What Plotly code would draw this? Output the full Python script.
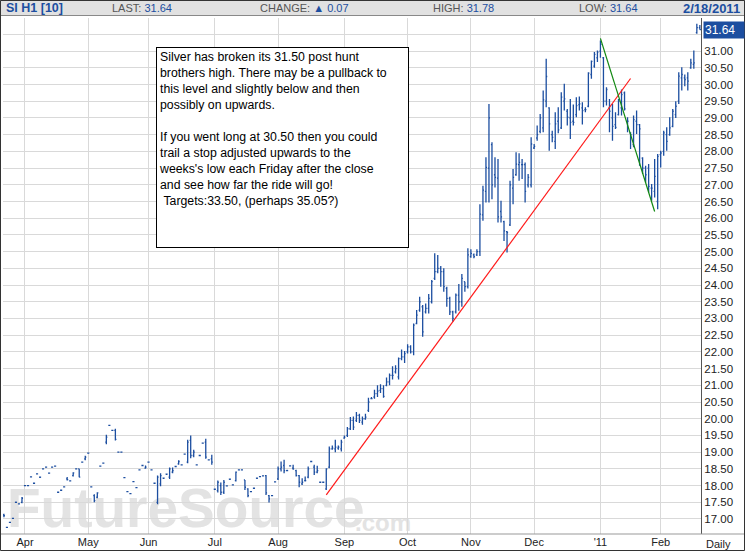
import pandas as pd
import plotly.graph_objects as go

# trading calendar (COMEX silver, Mar 23 2010 .. Feb 18 2011)
HOLIDAYS = ["2010-04-02", "2010-05-31", "2010-07-05", "2010-09-06",
            "2010-11-25", "2010-12-24", "2011-01-17"]
days = pd.bdate_range("2010-03-23", "2011-02-18")
days = days[~days.isin(pd.to_datetime(HOLIDAYS))]
dates = [d.strftime("%Y-%m-%d") for d in days]

# daily bars, one row per month (Mar .. Feb)
opens = [
    17.12, 16.75, 16.90, 17.02, 17.50, 17.45, 17.50,
    18.00, 18.00, 18.26, 18.07, 18.35, 18.25, 18.50, 18.55, 18.37, 18.55, 18.58,
    17.80, 17.86, 17.96, 18.20, 18.14, 18.30, 18.50, 18.50, 18.70, 18.80,
    18.97, 17.96, 17.70, 17.65, 18.58, 18.67, 19.30, 19.80, 19.65, 19.65,
    19.00, 19.00, 18.24, 17.82, 17.76, 18.12, 17.94, 18.47, 18.60, 18.52,
    18.70, 18.47, 18.07, 17.50, 18.05, 18.22, 18.34, 18.25, 18.40, 18.57, 18.65,
    18.62, 18.94, 18.70, 19.35, 18.90, 18.62, 18.90, 19.27, 19.30, 18.77, 18.80,
    17.89, 17.85, 18.00, 17.80, 17.99, 18.19, 18.02, 18.15, 18.47, 18.47, 18.17,
    17.90, 17.82, 17.92, 18.22, 18.27, 18.29, 18.30, 17.70, 17.70, 18.11,
    18.20, 18.50, 18.60, 18.45, 18.59, 18.52, 18.45, 18.30, 18.05, 18.15, 18.25,
    18.72, 18.55, 18.40, 18.10, 18.10, 17.90, 18.55, 19.10, 19.10, 19.12, 19.10,
    19.42, 19.50, 19.70, 19.95, 19.95, 20.10, 19.90, 20.00, 20.25, 20.60, 20.65,
    20.75, 20.85, 20.90, 21.00, 21.10, 21.30, 21.40, 21.25, 21.80, 21.85,
    22.00, 22.15, 22.00, 22.85, 23.25, 23.35, 23.20, 23.30, 23.50, 24.20, 24.40,
    24.50, 24.40, 23.90, 23.60, 23.20, 23.20, 23.70, 23.50, 24.10, 23.95,
    24.85, 24.90, 24.90, 25.00, 26.10, 26.80, 27.50, 28.20, 27.30, 27.20, 26.20,
    25.90, 25.60, 25.80, 26.90, 27.30, 27.60, 27.60, 27.60, 27.00, 27.00,
    28.10, 28.40, 28.60, 28.70, 29.50, 29.30, 28.50, 28.30, 28.90, 28.70, 29.50,
    29.20, 29.00, 28.90, 29.10, 29.40, 29.30, 29.25, 29.35, 30.30, 30.55, 30.80,
    31.00, 30.80, 29.50, 29.30, 29.00, 28.80, 29.10, 29.30, 29.75, 28.90,
    28.55, 28.20, 28.90, 28.80, 27.80, 27.50, 27.50, 26.90, 26.80, 26.50,
    27.90, 28.00, 28.50, 28.50, 28.75, 29.10, 29.50, 30.20, 30.20, 30.20, 30.50,
    30.60, 31.55, 31.70,
]
highs = [
    17.16, 16.77, 16.92, 17.04, 17.52, 17.47, 17.66,
    18.02, 18.02, 18.28, 18.09, 18.37, 18.27, 18.52, 18.57, 18.39, 18.57, 18.60,
    17.82, 17.88, 17.98, 18.26, 18.16, 18.40, 18.52, 18.50, 18.72, 18.89,
    18.99, 17.98, 17.74, 17.80, 18.60, 18.69, 19.52, 19.82, 19.67, 19.70,
    19.02, 19.02, 18.26, 17.84, 17.78, 18.14, 17.96, 18.49, 18.62, 18.60,
    18.72, 18.49, 18.09, 18.30, 18.37, 18.24, 18.36, 18.54, 18.54, 18.59, 18.76,
    18.64, 18.96, 19.37, 19.50, 19.07, 18.64, 18.92, 19.29, 19.40, 18.79, 18.92,
    17.91, 18.15, 18.09, 18.17, 18.01, 18.21, 18.04, 18.42, 18.49, 18.49, 18.17,
    17.92, 17.84, 17.94, 18.24, 18.29, 18.31, 18.32, 17.72, 17.72, 18.13,
    18.57, 18.72, 18.77, 18.47, 18.61, 18.62, 18.47, 18.32, 18.22, 18.27, 18.57,
    18.74, 18.62, 18.59, 18.12, 18.12, 18.52, 19.17, 19.20, 19.37, 19.20, 19.37,
    19.50, 19.75, 20.05, 20.07, 20.20, 20.15, 20.07, 20.15, 20.63, 20.65, 20.87,
    21.00, 21.03, 21.00, 21.23, 21.35, 21.57, 21.60, 21.83, 22.07, 22.03,
    22.23, 22.20, 22.85, 23.25, 23.65, 23.40, 23.45, 23.73, 24.15, 24.95, 24.90,
    24.57, 24.50, 23.95, 23.65, 23.23, 23.75, 24.03, 24.33, 24.10, 25.10,
    25.07, 24.94, 25.07, 26.42, 26.97, 27.82, 29.42, 28.27, 27.82, 27.77, 26.52,
    25.92, 25.62, 27.12, 27.47, 27.97, 27.94, 27.77, 27.67, 27.32, 28.42,
    28.22, 28.77, 29.12, 29.82, 30.77, 29.32, 28.62, 29.17, 29.32, 29.77, 30.02,
    29.27, 29.57, 29.40, 29.62, 29.64, 29.47, 29.32, 30.37, 30.72, 30.97, 31.02,
    31.32, 30.82, 29.92, 29.57, 29.42, 29.17, 29.57, 29.85, 29.79, 29.02,
    28.57, 29.07, 29.22, 28.82, 27.82, 27.57, 27.62, 27.02, 27.77, 27.92,
    28.02, 28.62, 28.72, 29.02, 29.27, 29.50, 30.37, 30.52, 30.30, 30.37, 30.77,
    31.02, 31.82, 31.78,
]
lows = [
    17.05, 16.73, 16.88, 17.00, 17.48, 17.43, 17.47,
    17.98, 17.98, 18.24, 18.05, 18.33, 18.23, 18.48, 18.53, 18.35, 18.53, 18.56,
    17.78, 17.84, 17.94, 18.15, 18.12, 18.27, 18.48, 18.25, 18.68, 18.76,
    18.95, 17.94, 17.50, 17.62, 18.56, 18.65, 19.24, 19.78, 19.63, 19.35,
    18.98, 18.98, 18.22, 17.80, 17.74, 18.10, 17.92, 18.45, 18.58, 18.50,
    18.68, 18.45, 18.05, 17.44, 17.98, 18.20, 18.32, 18.20, 18.37, 18.55, 18.62,
    18.60, 18.92, 18.67, 18.82, 18.85, 18.60, 18.88, 19.25, 18.80, 18.75, 18.62,
    17.87, 17.79, 17.72, 17.75, 17.97, 18.17, 18.00, 18.12, 18.45, 18.45, 17.87,
    17.65, 17.80, 17.90, 18.20, 18.25, 18.27, 17.72, 17.49, 17.68, 18.09,
    18.17, 18.42, 18.37, 18.43, 18.57, 18.47, 18.27, 17.95, 18.02, 18.12, 18.22,
    18.70, 18.32, 18.37, 18.08, 18.08, 17.87, 18.52, 19.07, 19.00, 19.07, 19.02,
    19.40, 19.45, 19.66, 19.66, 19.90, 19.87, 19.82, 19.97, 20.20, 20.58, 20.60,
    20.65, 20.77, 20.63, 20.97, 21.00, 21.17, 21.35, 21.17, 21.75, 21.67,
    21.95, 21.95, 21.90, 22.83, 23.20, 22.45, 23.15, 23.15, 23.45, 24.15, 24.35,
    23.95, 23.80, 23.35, 23.10, 22.90, 23.15, 23.23, 23.35, 23.80, 23.90,
    24.82, 24.80, 24.87, 24.87, 25.92, 26.47, 26.47, 26.57, 26.92, 25.87, 25.87,
    25.32, 24.97, 25.77, 26.42, 27.27, 27.12, 27.17, 26.47, 26.92, 26.92,
    28.07, 28.32, 28.54, 28.57, 29.32, 28.02, 28.27, 28.07, 28.54, 28.67, 29.22,
    28.77, 28.37, 28.77, 29.02, 29.22, 28.80, 29.17, 29.32, 30.17, 30.50, 30.67,
    30.80, 29.32, 29.37, 28.57, 28.32, 28.67, 29.07, 29.07, 29.22, 28.57,
    28.07, 28.12, 28.52, 27.57, 27.32, 27.07, 26.77, 26.52, 26.62, 26.27,
    27.52, 27.87, 28.02, 28.47, 28.72, 29.00, 29.42, 29.82, 29.95, 29.82, 30.47,
    30.47, 31.52, 31.64,
]
closes = [
    17.10, 16.75, 16.90, 17.02, 17.50, 17.45, 17.62,
    18.00, 18.00, 18.26, 18.07, 18.35, 18.25, 18.50, 18.55, 18.37, 18.55, 18.58,
    17.80, 17.86, 17.96, 18.18, 18.14, 18.38, 18.50, 18.25, 18.70, 18.85,
    18.97, 17.96, 17.55, 17.78, 18.58, 18.67, 19.45, 19.80, 19.65, 19.38,
    19.00, 19.00, 18.24, 17.82, 17.76, 18.12, 17.94, 18.47, 18.60, 18.55,
    18.70, 18.47, 18.07, 18.25, 18.30, 18.22, 18.34, 18.50, 18.45, 18.57, 18.72,
    18.62, 18.94, 19.30, 18.90, 19.00, 18.62, 18.90, 19.27, 18.85, 18.77, 18.70,
    17.89, 18.10, 17.80, 18.10, 17.99, 18.19, 18.02, 18.40, 18.47, 18.47, 17.95,
    17.70, 17.82, 17.92, 18.22, 18.27, 18.29, 17.78, 17.60, 17.70, 18.11,
    18.50, 18.55, 18.45, 18.45, 18.59, 18.50, 18.30, 18.10, 18.10, 18.15, 18.50,
    18.72, 18.40, 18.45, 18.10, 18.10, 18.50, 19.10, 19.12, 19.15, 19.15, 19.30,
    19.45, 19.70, 19.95, 19.75, 20.10, 19.95, 20.00, 20.05, 20.50, 20.60, 20.75,
    20.83, 20.90, 20.67, 21.10, 21.30, 21.30, 21.50, 21.80, 21.85, 21.95,
    22.15, 22.00, 22.80, 23.10, 23.50, 22.60, 23.30, 23.60, 24.10, 24.40, 24.50,
    24.40, 23.95, 23.60, 23.20, 23.00, 23.70, 23.50, 24.20, 23.95, 24.90,
    24.95, 24.85, 25.00, 26.12, 26.84, 27.52, 29.00, 27.00, 27.22, 26.04, 26.04,
    25.62, 25.57, 27.00, 27.22, 27.62, 27.67, 27.60, 26.80, 27.22, 28.22,
    28.15, 28.50, 29.00, 29.54, 30.24, 28.82, 28.42, 28.82, 28.64, 29.62, 29.57,
    29.02, 28.87, 28.87, 29.37, 29.42, 29.22, 29.25, 30.34, 30.69, 30.90, 30.97,
    31.20, 29.50, 29.85, 29.20, 28.75, 28.72, 29.50, 29.70, 29.27, 28.90,
    28.50, 28.95, 28.80, 28.67, 27.50, 27.30, 26.95, 26.90, 27.25, 27.85,
    27.95, 28.55, 28.30, 28.70, 29.20, 29.35, 30.25, 30.30, 30.15, 30.10, 30.65,
    30.65, 31.70, 31.64,
]

MONTH_NAMES = ["Apr", "May", "Jun", "Jul", "Aug", "Sep", "Oct", "Nov", "Dec", "'11", "Feb"]

# analyst's trend lines: (start date, start price, end date, end price, colour)
TREND_LINES = [
    ("2010-08-24", 17.72, "2011-01-18", 30.18, "#ff1a1a"),
    ("2011-01-03", 31.38, "2011-01-28", 26.20, "#118811"),
]

NOTE = ("Silver has broken its 31.50 post hunt<br>"
        "brothers high. There may be a pullback to<br>"
        "this level and slightly below and then<br>"
        "possibly on upwards.<br><br>"
        "If you went long at 30.50 then you could<br>"
        "trail a stop adjusted upwards to the<br>"
        "weeks's low each Friday after the close<br>"
        "and see how far the ride will go!<br>"
        "\u00a0Targets:33.50, (perhaps 35.05?)")

SYMBOL, LAST, CHANGE, HIGH, LOW, DATE = "SI H1 [10]", "31.64", "0.07", "31.78", "31.64", "2/18/2011"

BLUE = "#1c4ea0"
GRID = "#d9d9d9"
FONT = "Arial, Liberation Sans, sans-serif"

# pixel helpers: plot area is 3..701 x 18..534 in a 747x552 page
W, H = 747, 552
ML, MR, MT, MB = 3, 46, 18, 18
PW, PH = W - ML - MR, H - MT - MB


def px(x):
    return (x - ML) / PW


def py(y):
    return 1 - (y - MT) / PH


# first trading day of each month after the start gets a gridline + label
month_starts = []
for i in range(1, len(days)):
    if days[i].month != days[i - 1].month:
        month_starts.append(dates[i])

fig = go.Figure(go.Ohlc(
    x=dates, open=opens, high=highs, low=lows, close=closes,
    increasing=dict(line=dict(color=BLUE, width=1.3)),
    decreasing=dict(line=dict(color=BLUE, width=1.3)),
    tickwidth=0.35, hoverinfo="skip", showlegend=False,
))

shapes = []
for d0, p0, d1, p1, col in TREND_LINES:
    shapes.append(dict(type="line", xref="x", yref="y",
                       x0=dates.index(d0), y0=p0, x1=dates.index(d1), y1=p1,
                       line=dict(color=col, width=1.2)))

# watermark, behind the bars
shapes.append(dict(type="rect", xref="paper", yref="paper", layer="below",
                   x0=px(4), x1=px(352), y0=py(534), y1=py(484),
                   line=dict(width=0), fillcolor="rgba(0,0,0,0)",
                   label=dict(text="FutureSource", textposition="bottom left", padding=0,
                              font=dict(family=FONT, size=55, color="#e3e3e3", weight="bold"))))
shapes.append(dict(type="rect", xref="paper", yref="paper", layer="below",
                   x0=px(352), x1=px(410), y0=py(534), y1=py(508),
                   line=dict(width=0), fillcolor="rgba(0,0,0,0)",
                   label=dict(text=".com", textposition="bottom left", padding=0,
                              font=dict(family=FONT, size=24, color="#e3e3e3", weight="bold"))))

# header strip, bottom axis line, outer frame
shapes.append(dict(type="rect", xref="paper", yref="paper",
                   x0=px(0.5), x1=px(744.5), y0=py(15.5), y1=py(0.5),
                   fillcolor="#e1e1e1", line=dict(color="#888", width=1)))
shapes.append(dict(type="line", xref="paper", yref="paper",
                   x0=px(1), x1=px(744), y0=py(534), y1=py(534),
                   line=dict(color="#999", width=1)))
shapes.append(dict(type="rect", xref="paper", yref="paper",
                   x0=px(0.5), x1=px(744.5), y0=py(550.5), y1=py(0.5),
                   line=dict(color="#333", width=1)))

annotations = [
    dict(xref="paper", yref="paper", x=px(156), y=py(47), xanchor="left", yanchor="top",
         text=NOTE, align="left", valign="top", width=247, height=195,
         bordercolor="black", borderwidth=1, borderpad=2, bgcolor="white",
         showarrow=False, font=dict(family=FONT, size=12.3, color="black")),
    dict(xref="paper", yref="y", x=px(703), y=float(LAST), xanchor="left", yanchor="middle",
         text=LAST, bgcolor=BLUE, borderpad=1, width=38, align="left", showarrow=False,
         font=dict(family=FONT, size=12, color="white")),
    dict(xref="paper", yref="paper", x=px(718), y=py(544), xanchor="center", yanchor="middle",
         text="Daily", showarrow=False, font=dict(family=FONT, size=11, color="#222")),
]

header = [
    (4, f"<b>{SYMBOL}</b>", 12.5, BLUE),
    (110, f"<span style='color:#555'>LAST: </span>{LAST}", 11, BLUE),
    (258, f"<span style='color:#555'>CHANGE: </span>\u25b2 {CHANGE}", 11, BLUE),
    (431, f"<span style='color:#555'>HIGH: </span>{HIGH}", 11, BLUE),
    (577, f"<span style='color:#555'>LOW: </span>{LOW}", 11, BLUE),
]
for x, txt, size, col in header:
    annotations.append(dict(xref="paper", yref="paper", x=px(x), y=py(8.5),
                            xanchor="left", yanchor="middle", text=txt, showarrow=False,
                            font=dict(family=FONT, size=size, color=col)))
annotations.append(dict(xref="paper", yref="paper", x=px(742), y=py(8.5),
                        xanchor="right", yanchor="middle", text=f"<b>{DATE}</b>",
                        showarrow=False, font=dict(family=FONT, size=13, color=BLUE)))

fig.update_layout(
    width=W, height=H,
    margin=dict(l=ML, r=MR, t=MT, b=MB),
    paper_bgcolor="white", plot_bgcolor="white",
    shapes=shapes, annotations=annotations,
    hovermode=False,
    xaxis=dict(type="category", range=[-0.3, 231.38], rangeslider=dict(visible=False),
               tickmode="array", tickvals=month_starts, ticktext=MONTH_NAMES,
               showgrid=True, gridcolor=GRID, gridwidth=1, ticks="", showline=False,
               zeroline=False, tickfont=dict(family=FONT, size=11, color="#222")),
    yaxis=dict(side="right", range=[16.551, 31.99], tick0=17, dtick=0.5, tickformat=".2f",
               showgrid=True, gridcolor=GRID, gridwidth=1, ticks="", zeroline=False,
               showline=True, linecolor="#555", linewidth=1,
               tickfont=dict(family=FONT, size=11.5, color="#222")),
)

# the page is photographed at exactly the figure size, so drop the body margin
fig.write_html("out.html", config={"displayModeBar": False},
               post_script="document.body.style.margin='0';")
